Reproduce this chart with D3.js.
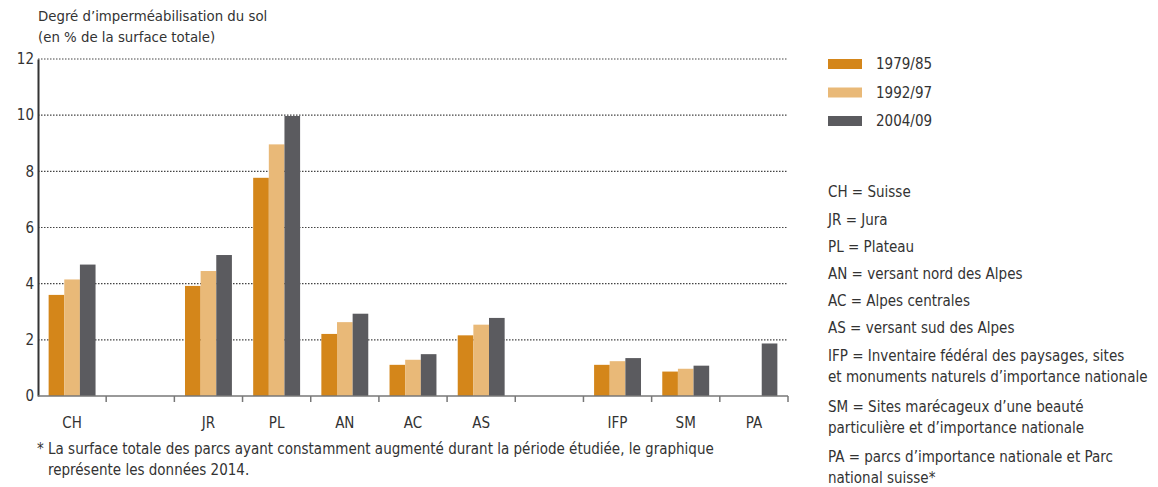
<!DOCTYPE html>
<html><head><meta charset="utf-8">
<script src="https://cdn.jsdelivr.net/npm/d3@7"></script>
<style>
body{margin:0;background:#fff;}
text{font-family:"Liberation Sans Narrow","DejaVu Sans Condensed",sans-serif;fill:#333;}
</style></head>
<body><svg id="c" width="1158" height="487"></svg>
<script>
const categories = ["CH","gap1","JR","PL","AN","AC","AS","gap2","IFP","SM","PA"];
const categoryLabels = ["CH","","JR","PL","AN","AC","AS","","IFP","SM","PA"];
const seriesNames = ["1979/85","1992/97","2004/09"];
const s1979 = [3.6,null,3.92,7.77,2.21,1.11,2.16,null,1.11,0.87,null];
const s1992 = [4.15,null,4.45,8.96,2.63,1.29,2.54,null,1.24,0.97,null];
const s2004 = [4.68,null,5.02,9.97,2.93,1.49,2.78,null,1.35,1.08,1.87];
const yTicks = [0,2,4,6,8,10,12];
const titleLines = ["Degré d\u2019imperméabilisation du sol","(en % de la surface totale)"];
const footnoteLines = ["* La surface totale des parcs ayant constamment augmenté durant la période étudiée, le graphique","représente les données 2014."];
const glossary = [
  ["CH = Suisse"],["JR = Jura"],["PL = Plateau"],["AN = versant nord des Alpes"],
  ["AC = Alpes centrales"],["AS = versant sud des Alpes"],
  ["IFP = Inventaire fédéral des paysages, sites","et monuments naturels d\u2019importance nationale"],
  ["SM = Sites marécageux d\u2019une beauté","particulière et d\u2019importance nationale"],
  ["PA = parcs d\u2019importance nationale et Parc","national suisse*"]
];
const colors = ["#d4861a","#e9b978","#5b5b5f"];
const series = [s1979,s1992,s2004];

const svg = d3.select("#c");
const L = 38, R = 788, T = 59, B = 396;
const x = d3.scaleBand().domain(categories).range([L,R]);
const xs = d3.scaleBand().domain(seriesNames).range([0,x.bandwidth()]).paddingInner(0).paddingOuter(0.68);
const y = d3.scaleLinear().domain([0,12]).range([B,T]);

// gridlines
svg.append("g").selectAll("line").data(yTicks.filter(d=>d>0)).join("line")
  .attr("x1",L).attr("x2",R).attr("y1",d=>y(d)).attr("y2",d=>y(d))
  .attr("stroke","#444").attr("stroke-width",1.2).attr("stroke-dasharray","1.5,1.5");

// bars
series.forEach((s,i)=>{
  svg.append("g").selectAll("rect").data(categories.map((c,j)=>({c,v:s[j]})).filter(d=>d.v!=null)).join("rect")
    .attr("x",d=>x(d.c)+xs(seriesNames[i]))
    .attr("width",xs.bandwidth())
    .attr("y",d=>y(d.v)).attr("height",d=>B-y(d.v))
    .attr("fill",colors[i]);
});

// y axis
const ya = svg.append("g").attr("transform",`translate(${L},0)`)
  .call(d3.axisLeft(y).tickValues(yTicks).tickSize(0).tickPadding(4));
ya.select(".domain").attr("stroke","#333").attr("stroke-width",2);
ya.selectAll("text").style("font-size","15px").attr("fill","#333");

// x axis
const boundaries = categories.map(c=>x(c)).concat([R]);
svg.append("line").attr("x1",L).attr("x2",R).attr("y1",B).attr("y2",B).attr("stroke","#777").attr("stroke-width",1.5);
svg.append("g").selectAll("line").data(boundaries.slice(1)).join("line")
  .attr("x1",d=>d).attr("x2",d=>d).attr("y1",B).attr("y2",B+6).attr("stroke","#777").attr("stroke-width",1.5);
svg.append("g").selectAll("text").data(categories).join("text")
  .attr("x",d=>x(d)+x.bandwidth()/2).attr("y",423).attr("dy","0.35em")
  .attr("text-anchor","middle").style("font-size","15px")
  .text((d,i)=>categoryLabels[i]);

// title
svg.append("g").selectAll("text").data(titleLines).join("text")
  .attr("x",38).attr("y",(d,i)=>16+i*21).attr("dy","0.35em").style("font-size","14.8px").text(d=>d);

// footnote
svg.append("g").selectAll("text").data(footnoteLines).join("text")
  .attr("x",(d,i)=>i===0?37:48).attr("y",(d,i)=>449+i*21).attr("dy","0.35em").style("font-size","15px").text(d=>d);

// legend
const lg = svg.append("g");
seriesNames.forEach((n,i)=>{
  lg.append("rect").attr("x",828).attr("y",59+i*28.5).attr("width",34).attr("height",10).attr("fill",colors[i]);
  lg.append("text").attr("x",876).attr("y",64+i*28.5).attr("dy","0.35em").style("font-size","15px").text(n);
});

// glossary
const gy = [192,220,247,274,301,328,356,407,457];
glossary.forEach((lines,i)=>{
  lines.forEach((t,k)=>{
    svg.append("text").attr("x",828).attr("y",gy[i]+k*21).attr("dy","0.35em").style("font-size","15px").text(t);
  });
});
</script></body></html>
